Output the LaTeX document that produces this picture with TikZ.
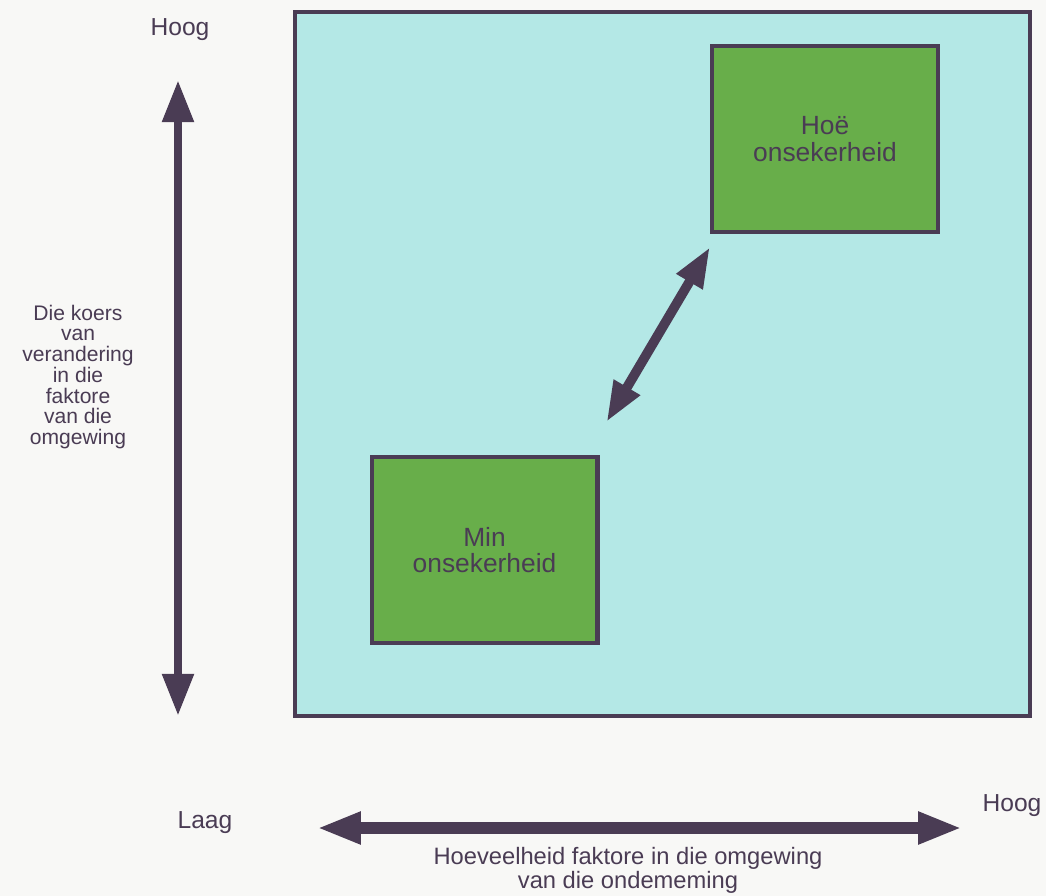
\documentclass[tikz,border=0pt]{standalone}
\usepackage{fontspec}
\setmainfont{Liberation Sans}
\usetikzlibrary{arrows.meta,calc}

\begin{document}
\begin{tikzpicture}[x=0.02cm,y=-0.02cm]
  % Colors
  \definecolor{paper}{RGB}{248,248,246}
  \definecolor{ink}{RGB}{74,60,84}
  \definecolor{field}{RGB}{180,232,230}
  \definecolor{patch}{RGB}{104,174,74}

  % Styles
  \tikzstyle{zone}=[draw=ink,line width=2.3pt,fill=field,inner sep=0pt,minimum width=14.7cm,minimum height=14.08cm]
  \tikzstyle{cell}=[draw=ink,line width=2.3pt,fill=patch,text=ink,align=center,minimum width=4.52cm,minimum height=3.72cm,font=\fontsize{15}{15}\selectfont]
  \tikzstyle{axislabel}=[text=ink,align=center,inner sep=0pt]
  \tikzstyle{vaxis}=[ink,line width=5pt,>={Triangle[width=17pt,length=24pt]},<->]
  \tikzstyle{haxis}=[ink,line width=6.8pt,>={Triangle[width=17pt,length=25pt]},<->]
  \tikzstyle{link}=[ink,line width=5.5pt,>={Triangle[width=16pt,length=23pt]},<->]

  % The graphic
  \fill[paper] (0,0) rectangle (1046,896);
  \useasboundingbox (0,0) rectangle (1046,896);

  \node[zone] (field) at (662.5,364) {};
  \node[cell] (high) at (825,139) {Hoë\\onsekerheid};
  \node[cell] (low) at (484.5,550) {Min\\onsekerheid};
  \draw[link] ($(low.north east)+(7,-33)$) -- ($(high.south west)+(0,13)$);

  % vertical axis
  \coordinate (vtop) at (178,80);
  \coordinate (vbot) at (178,716);
  \draw[vaxis] (vbot) -- (vtop);
  \node[axislabel,font=\fontsize{14}{14}\selectfont] (vhigh) at (180,30) {Hoog};
  \node[axislabel,font=\fontsize{12}{11.8}\selectfont] (vname) at (78,377)
    {Die koers\\van\\verandering\\in die\\faktore\\van die\\omgewing};

  % horizontal axis
  \coordinate (hleft) at (317,828);
  \coordinate (hright) at (962,828);
  \draw[haxis] (hleft) -- (hright);
  \node[axislabel,font=\fontsize{14}{14}\selectfont] (hlow) at (205,823) {Laag};
  \node[axislabel,font=\fontsize{14}{14}\selectfont] (hhigh) at (1012,806) {Hoog};
  \node[axislabel,font=\fontsize{13.5}{11.5}\selectfont] (hname) at (628,870)
    {Hoeveelheid faktore in die omgewing\\van die ondememing};
\end{tikzpicture}
\end{document}
